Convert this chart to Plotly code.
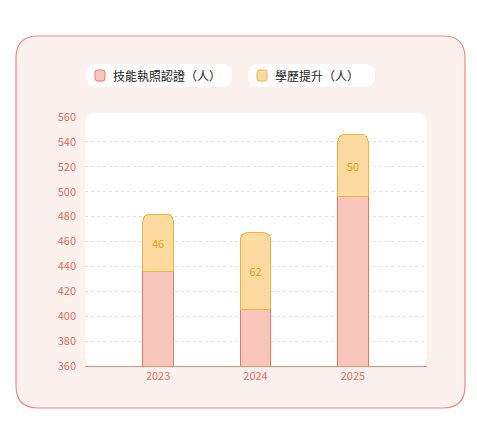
import plotly.graph_objects as go

years = ["2023", "2024", "2025"]
skill = [436, 405, 496]
edu = [46, 62, 50]
names = ["技能執照認證（人）", "學歷提升（人）"]
yticks = list(range(360, 561, 20))
AXMIN = 360

O = 8  # page body offset
L, R, T, B = 85, 427, 117, 366  # screen pixels of plot area
W, H = 477, 422
def px(x): return (x - L) / (R - L)
def py(y): return (B - y) / (B - T)

def rrect(x0, y0, x1, y1, r):
    X = px; Y = py
    return (f"M {X(x0+r)},{Y(y0)} L {X(x1-r)},{Y(y0)} Q {X(x1)},{Y(y0)} {X(x1)},{Y(y0+r)} "
            f"L {X(x1)},{Y(y1-r)} Q {X(x1)},{Y(y1)} {X(x1-r)},{Y(y1)} L {X(x0+r)},{Y(y1)} "
            f"Q {X(x0)},{Y(y1)} {X(x0)},{Y(y1-r)} L {X(x0)},{Y(y0+r)} Q {X(x0)},{Y(y0)} {X(x0+r)},{Y(y0)} Z")

fig = go.Figure()
fig.add_bar(x=years, y=skill, name=names[0],
            marker=dict(color="#f9c6bb", line=dict(color="#e8786b", width=1)), width=0.31)
fig.add_bar(x=years, y=edu, name=names[1], text=edu, textposition="inside",
            insidetextanchor="middle", textfont=dict(color="#e0a020", size=11),
            marker=dict(color="#fddba0", line=dict(color="#f0b43c", width=1)), width=0.31)

shapes = [
    dict(type="path", xref="paper", yref="paper", path=rrect(16, 36, 465, 408, 22),
         fillcolor="#fdf1ee", line=dict(color="#ec8a80", width=1.2), layer="below"),
    dict(type="path", xref="paper", yref="paper", path=rrect(85, 113, 427, 366, 10),
         fillcolor="#ffffff", line=dict(width=0), layer="below"),
    dict(type="path", xref="paper", yref="paper", path=rrect(86, 64, 232, 87, 11),
         fillcolor="#ffffff", line=dict(width=0), layer="below"),
    dict(type="path", xref="paper", yref="paper", path=rrect(248, 64, 375, 87, 11),
         fillcolor="#ffffff", line=dict(width=0), layer="below"),
    dict(type="path", xref="paper", yref="paper", path=rrect(95, 70, 105, 81, 2.5),
         fillcolor="#f9c6bb", line=dict(color="#e8786b", width=1)),
    dict(type="path", xref="paper", yref="paper", path=rrect(257, 70, 267, 81, 2.5),
         fillcolor="#fddba0", line=dict(color="#f0b43c", width=1)),
]
annotations = [
    dict(xref="paper", yref="paper", x=px(111), y=py(75.5), xanchor="left", yanchor="middle",
         text=names[0], showarrow=False, font=dict(size=12, color="#222")),
    dict(xref="paper", yref="paper", x=px(273), y=py(75.5), xanchor="left", yanchor="middle",
         text=names[1], showarrow=False, font=dict(size=12, color="#222")),
]
for yr, v in zip(years, skill):
    annotations.append(dict(x=yr, y=(AXMIN + v) / 2, text=str(v), showarrow=False,
                            font=dict(size=11, color="#d0605a")))

fig.update_layout(
    width=W, height=H, barmode="stack", barcornerradius=7, showlegend=False,
    margin=dict(l=L - O, r=W - R + O, t=T - O, b=H - B + O),
    paper_bgcolor="rgba(0,0,0,0)", plot_bgcolor="rgba(0,0,0,0)",
    font=dict(family="Noto Sans CJK TC, Noto Sans", size=11),
    shapes=shapes, annotations=annotations,
    xaxis=dict(type="category", range=[-0.75, 2.76], showgrid=False, showline=True,
               linecolor="#ec8a80", ticks="", tickfont=dict(color="#e07060", size=11)),
    yaxis=dict(range=[AXMIN, 560], tickvals=yticks, showgrid=True, gridcolor="#e4e4e4",
               griddash="dot", zeroline=False, showline=False, ticks="",
               tickfont=dict(color="#e07060", size=11), ticklabelstandoff=8),
)
fig.write_html("out.html")
